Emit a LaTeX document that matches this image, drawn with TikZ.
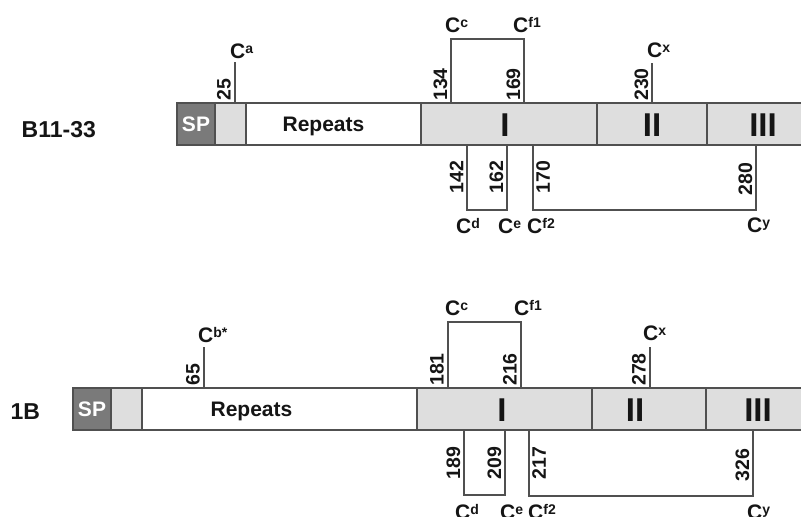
\documentclass[tikz,border=0pt]{standalone}
\usepackage{fontspec}
\setmainfont{Liberation Sans}
\definecolor{linegray}{HTML}{505050}
\definecolor{spgray}{HTML}{7A7A7A}
\definecolor{domgray}{HTML}{DEDEDE}
\definecolor{ink}{HTML}{151515}
% cysteine label: bold C with a small raised tag
\newcommand\cys[1]{C\raisebox{5pt}{\fontsize{14}{14}\selectfont #1}}

\begin{document}
\begin{tikzpicture}[x=1pt,y=-1pt,
  seg/.style={draw=linegray, line width=1.2pt, inner sep=0, outer sep=0,
              anchor=north west, minimum height=42pt},
  bond/.style={draw=linegray, line width=1.2pt},
  sitenum/.style={font=\fontsize{19.5}{20}\selectfont\bfseries, text=ink,
              inner sep=0, rotate=90},
  cyslab/.style={font=\fontsize{21}{22}\selectfont\bfseries, text=ink,
                 inner sep=0, anchor=base west},
  protname/.style={font=\fontsize{23}{25}\selectfont\bfseries, text=ink,
                   inner sep=0, anchor=base west},
  seglab/.style={font=\fontsize{21}{22}\selectfont\bfseries, inner sep=0,
                 anchor=base},
  roman/.style={font=\fontsize{33}{33}\selectfont\bfseries, text=ink,
                inner sep=0}]
\useasboundingbox (0,0) rectangle (801,517);

% ---------------- B11-33 ----------------
\node[protname] (nameA) at (21.5,137) {B11-33};
\node[seg, fill=spgray,  minimum width=38]  (spA)  at (177,103) {};
\node[seg, fill=domgray, minimum width=31]  (lkA)  at (215,103) {};
\node[seg, fill=white,   minimum width=175] (repA) at (246,103) {};
\node[seg, fill=domgray, minimum width=176] (dIA)  at (421,103) {};
\node[seg, fill=domgray, minimum width=110] (dIIA) at (597,103) {};
\node[seg, fill=domgray, minimum width=140] (dIIIA) at (707,103) {};
\node[seglab, text=white] (spAt) at (196,131.5) {SP};
\node[seglab, text=ink] (repAt) at (323.5,131.5) {Repeats};
\node[roman] (rIA) at (505,125) {I};
\node[roman] (rIIA) at (652,125) {II};
\node[roman] (rIIIA) at (763,125) {III};

% sites above the bar
\coordinate (a25) at (235,103);   \coordinate (a25e) at (235,62);
\coordinate (a134) at (451,103);  \coordinate (a169) at (524,103);
\coordinate (a230) at (652,103);  \coordinate (a230e) at (652,63);
\draw[bond] (a25) -- (a25e);
\draw[bond] (a134) -- ++(0,-64) -| (a169);
\draw[bond] (a230) -- (a230e);
\node[sitenum, anchor=south west] (p25)  at (231,101) {25};
\node[sitenum, anchor=south west] (p134) at (447.5,101) {134};
\node[sitenum, anchor=south west] (p169) at (520.5,101) {169};
\node[sitenum, anchor=south west] (p230) at (648.5,101) {230};
\node[cyslab] (ca)  at (230,58) {\cys{a}};
\node[cyslab] (cc)  at (445,32) {\cys{c}};
\node[cyslab] (cf1) at (513,32) {\cys{f1}};
\node[cyslab] (cx)  at (647,57) {\cys{x}};

% sites below the bar
\coordinate (a142) at (467,145);  \coordinate (a162) at (507,145);
\coordinate (a170) at (533,145);  \coordinate (a280) at (756,145);
\draw[bond] (a142) -- ++(0,65) -| (a162);
\draw[bond] (a170) -- ++(0,65) -| (a280);
\node[sitenum, anchor=south] (p142) at (463.5,177) {142};
\node[sitenum, anchor=south] (p162) at (503.5,177) {162};
\node[sitenum, anchor=north] (p170) at (536,177) {170};
\node[sitenum, anchor=south] (p280) at (752.5,179) {280};
\node[cyslab] (cd)  at (456,233) {\cys{d}};
\node[cyslab] (ce)  at (498,233) {\cys{e}};
\node[cyslab] (cf2) at (527,233) {\cys{f2}};
\node[cyslab] (cy)  at (747,232) {\cys{y}};

% ---------------- 1B ----------------
\node[protname] (nameB) at (10.5,419) {1B};
\node[seg, fill=spgray,  minimum width=38]  (spB)  at (73,388) {};
\node[seg, fill=domgray, minimum width=31]  (lkB)  at (111,388) {};
\node[seg, fill=white,   minimum width=275] (repB) at (142,388) {};
\node[seg, fill=domgray, minimum width=175] (dIB)  at (417,388) {};
\node[seg, fill=domgray, minimum width=114] (dIIB) at (592,388) {};
\node[seg, fill=domgray, minimum width=140] (dIIIB) at (706,388) {};
\node[seglab, text=white] (spBt) at (92,416.5) {SP};
\node[seglab, text=ink] (repBt) at (251.5,416.5) {Repeats};
\node[roman] (rIB) at (502,410) {I};
\node[roman] (rIIB) at (635,410) {II};
\node[roman] (rIIIB) at (758,410) {III};

% sites above the bar
\coordinate (b65) at (204,388);   \coordinate (b65e) at (204,347);
\coordinate (b181) at (448,388);  \coordinate (b216) at (521,388);
\coordinate (b278) at (650,388);  \coordinate (b278e) at (650,347);
\draw[bond] (b65) -- (b65e);
\draw[bond] (b181) -- ++(0,-66) -| (b216);
\draw[bond] (b278) -- (b278e);
\node[sitenum, anchor=south west] (p65)  at (200,386) {65};
\node[sitenum, anchor=south west] (p181) at (444,386) {181};
\node[sitenum, anchor=south west] (p216) at (517,386) {216};
\node[sitenum, anchor=south west] (p278) at (646,386) {278};
\node[cyslab] (cb)   at (198,342) {\cys{b*}};
\node[cyslab] (cc2)  at (445,315) {\cys{c}};
\node[cyslab] (cf12) at (514,315) {\cys{f1}};
\node[cyslab] (cx2)  at (643,340) {\cys{x}};

% sites below the bar
\coordinate (b189) at (464,431);  \coordinate (b209) at (505,431);
\coordinate (b217) at (529,431);  \coordinate (b326) at (753,431);
\draw[bond] (b189) -- ++(0,64) -| (b209);
\draw[bond] (b217) -- ++(0,65) -| (b326);
\node[sitenum, anchor=south] (p189) at (460.5,463) {189};
\node[sitenum, anchor=south] (p209) at (501.5,463) {209};
\node[sitenum, anchor=north] (p217) at (532,463) {217};
\node[sitenum, anchor=south] (p326) at (749.5,465) {326};
\node[cyslab] (cd2)  at (455,519) {\cys{d}};
\node[cyslab] (ce2)  at (500,519) {\cys{e}};
\node[cyslab] (cf22) at (528,519) {\cys{f2}};
\node[cyslab] (cy2)  at (747,519) {\cys{y}};
\end{tikzpicture}
\end{document}
